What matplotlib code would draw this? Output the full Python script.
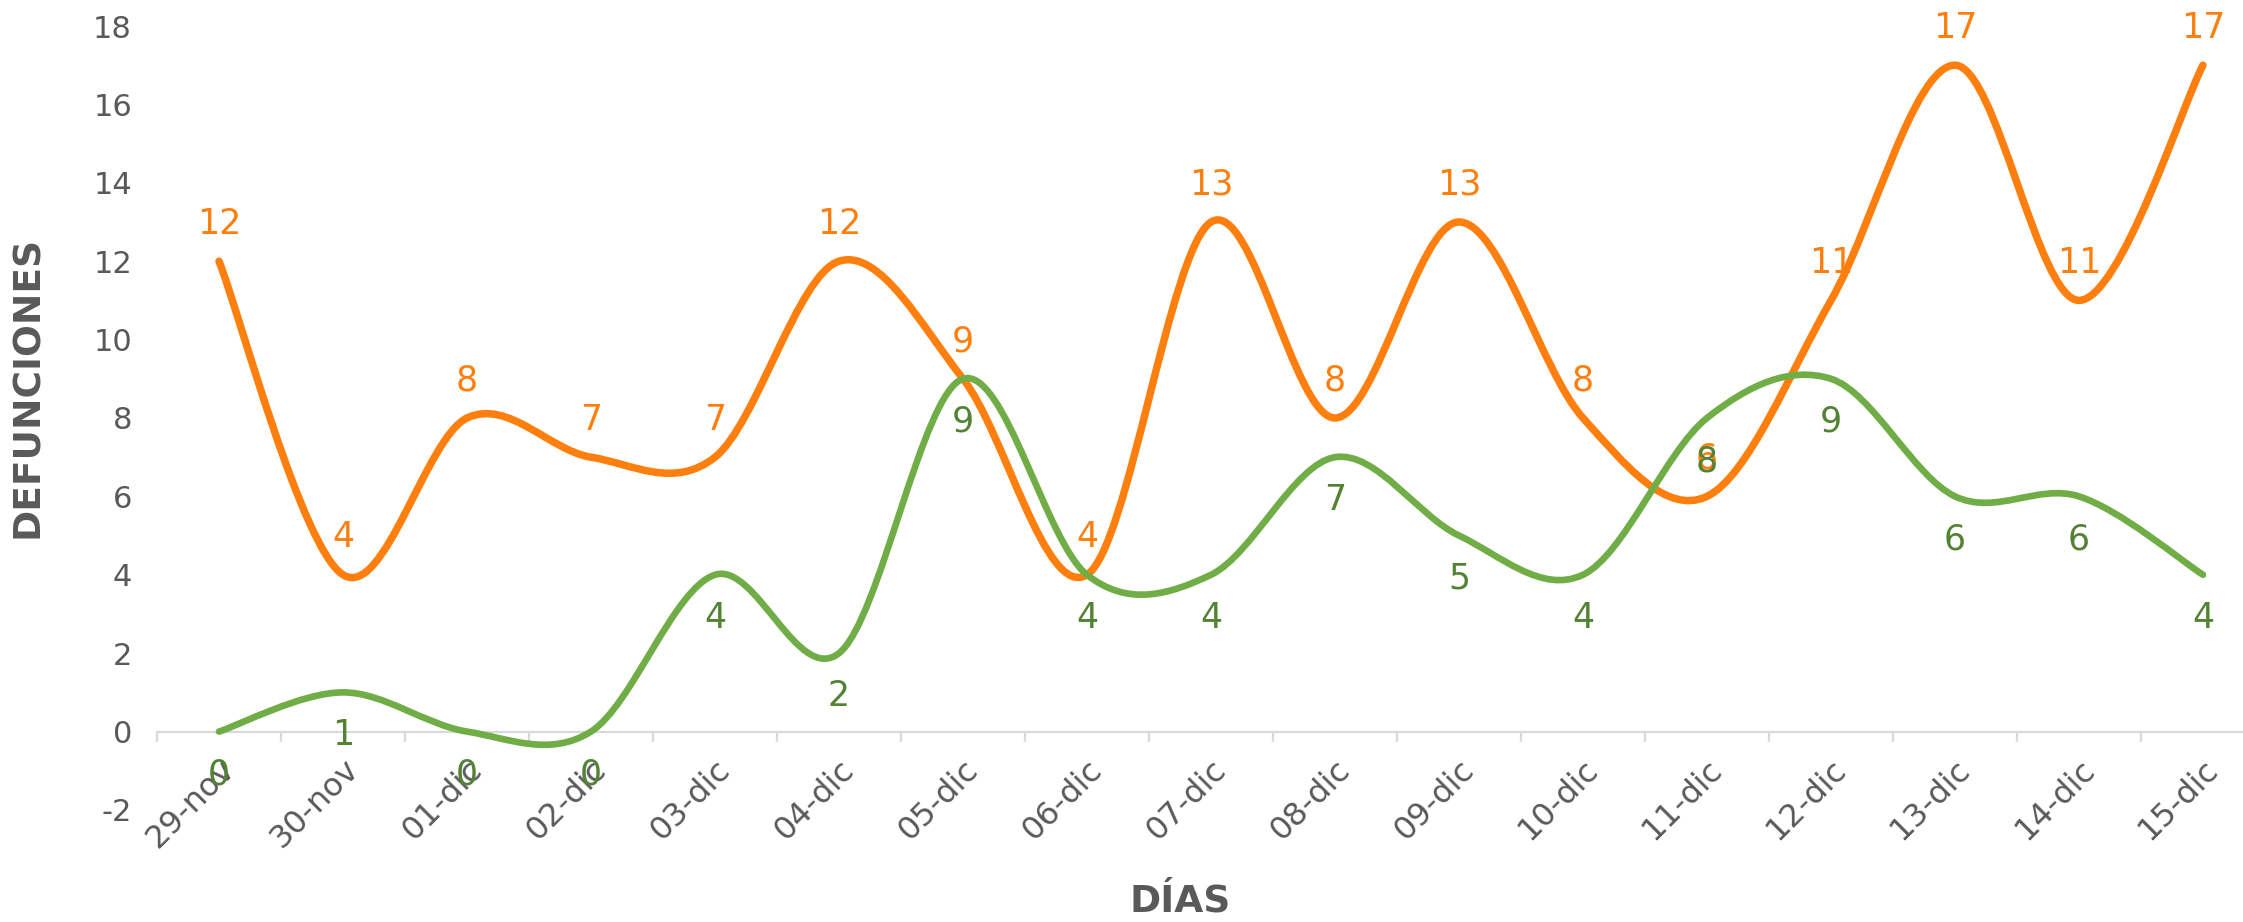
import matplotlib
matplotlib.use("Agg")
import matplotlib.pyplot as plt
from matplotlib.path import Path
from matplotlib.patches import PathPatch

# ---------------------------------------------- data
dias = ['29-nov', '30-nov', '01-dic', '02-dic', '03-dic', '04-dic', '05-dic',
        '06-dic', '07-dic', '08-dic', '09-dic', '10-dic', '11-dic', '12-dic',
        '13-dic', '14-dic', '15-dic']
serie_naranja = [12, 4, 8, 7, 7, 12, 9, 4, 13, 8, 13, 8, 6, 11, 17, 11, 17]
serie_verde = [0, 1, 0, 0, 4, 2, 9, 4, 4, 7, 5, 4, 8, 9, 6, 6, 4]
y_ticks = [-2, 0, 2, 4, 6, 8, 10, 12, 14, 16, 18]

NARANJA = '#FF7F0E'
VERDE = '#70AD47'
VERDE_TXT = '#548235'
GRIS = '#595959'

plt.rcParams['font.family'] = ['DejaVu Sans']


def smooth_path(xs, ys):
    # bezier smoothing like the spreadsheet "smoothed line"
    pts = list(zip(xs, ys))
    n = len(pts)
    verts = [pts[0]]
    codes = [Path.MOVETO]
    for i in range(n - 1):
        p0 = pts[i - 1] if i > 0 else pts[i]
        p1 = pts[i]
        p2 = pts[i + 1]
        p3 = pts[i + 2] if i + 2 < n else pts[i + 1]
        c1 = (p1[0] + (p2[0] - p0[0]) / 6, p1[1] + (p2[1] - p0[1]) / 6)
        c2 = (p2[0] - (p3[0] - p1[0]) / 6, p2[1] - (p3[1] - p1[1]) / 6)
        verts += [c1, c2, p2]
        codes += [Path.CURVE4] * 3
    return Path(verts, codes)


fig = plt.figure(figsize=(22.43, 9.22), dpi=100)
ax = fig.add_axes([0.0700, 0.1215, 0.9398, 0.8503])

# spine first: moving it rebuilds the ticks
ax.spines['bottom'].set_position(('data', 0))
ax.spines['bottom'].set_color('#D9D9D9')
ax.spines['bottom'].set_linewidth(1.6)
for s in ['left', 'top', 'right']:
    ax.spines[s].set_visible(False)

x = list(range(len(dias)))

for ys, col, lw in [(serie_naranja, NARANJA, 5.4), (serie_verde, VERDE, 4.8)]:
    patch = PathPatch(smooth_path(x, ys), facecolor='none', edgecolor=col,
                      lw=lw, capstyle='round', joinstyle='round', zorder=3)
    ax.add_patch(patch)

for xi, v in zip(x, serie_naranja):
    ax.annotate(str(v), (xi, v), xytext=(0, 27), textcoords='offset points',
                ha='center', va='center', fontsize=25, color=NARANJA, zorder=4)
for xi, v in zip(x, serie_verde):
    ax.annotate(str(v), (xi, v), xytext=(0, -31), textcoords='offset points',
                ha='center', va='center', fontsize=25, color=VERDE_TXT, zorder=4)

ax.set_xlim(-0.5, len(dias) - 0.5)
ax.set_ylim(-2, 18)
ax.set_yticks(y_ticks)
ax.set_yticklabels([str(t) for t in y_ticks])

ax.set_xticks(x)
ax.set_xticks([i - 0.5 for i in range(len(dias) + 1)], minor=True)
ax.tick_params(axis='x', which='major', length=0, pad=16, labelsize=23, labelcolor=GRIS)
ax.tick_params(axis='x', which='minor', length=7, width=1.6, color='#D9D9D9')
ax.tick_params(axis='y', length=0, pad=18, labelsize=22, labelcolor=GRIS)
ax.set_xticklabels(dias, rotation=45, ha='right', va='top', rotation_mode='anchor')

fig.text(1180 / 2243, 0.022, 'DÍAS', ha='center', va='center', fontsize=27,
         fontweight='bold', color=GRIS)
fig.text(28 / 2243, 0.58, 'DEFUNCIONES', ha='center', va='center', fontsize=27,
         fontweight='bold', color=GRIS, rotation=90)

fig.savefig('out.png', dpi=100)
